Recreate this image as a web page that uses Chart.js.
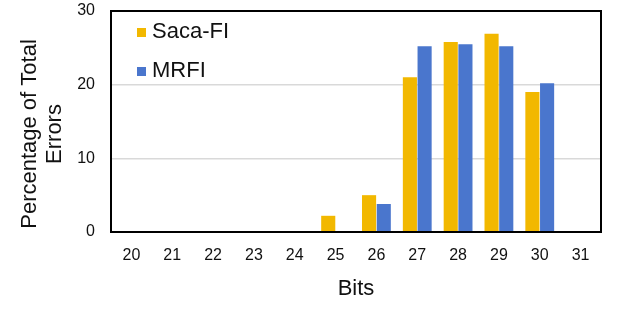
<!DOCTYPE html>
<html>
<head>
<meta charset="utf-8">
<script src="https://cdn.jsdelivr.net/npm/chart.js@4/dist/chart.umd.min.js"></script>
<style>
  body { margin: 0; background: #fff; }
  #wrap { width: 623px; height: 312px; }
</style>
</head>
<body>
<div id="wrap"><canvas id="bitChart"></canvas></div>
<script>
const bits = ["20", "21", "22", "23", "24", "25", "26", "27", "28", "29", "30", "31"];
const sacaFI = [0, 0, 0, 0, 0, 2.2, 5.0, 21.0, 25.8, 26.9, 19.0, 0];
const mrfi = [0, 0, 0, 0, 0, 0, 3.8, 25.2, 25.5, 25.2, 20.2, 0];
const yTicks = [0, 10, 20, 30];
const yTitle = ["Percentage of Total", "Errors"];

const fontFam = "'Liberation Sans', Arial, sans-serif";

// box around plot, legend inside the plot, and the y title (sits a bit low in the original)
const boxAndLegend = {
  id: "boxAndLegend",
  afterDatasetsDraw(chart) {
    const { ctx, chartArea: a } = chart;
    ctx.save();
    ctx.strokeStyle = "#000";
    ctx.lineWidth = 2;
    ctx.strokeRect(a.left, a.top, a.right - a.left, a.bottom - a.top);
    ctx.font = "22px " + fontFam;
    ctx.textBaseline = "middle";
    chart.data.datasets.forEach((ds, i) => {
      const y = a.top + 21 + i * 39;
      ctx.fillStyle = ds.backgroundColor;
      ctx.fillRect(a.left + 26, y - 4, 9, 9);
      ctx.fillStyle = "#111";
      ctx.fillText(ds.label, a.left + 41, y);
    });
    ctx.translate(30, 134);
    ctx.rotate(-Math.PI / 2);
    ctx.textAlign = "center";
    yTitle.forEach((line, i) => ctx.fillText(line, 0, i * 25));
    ctx.restore();
  }
};

const data = {
  labels: bits,
  datasets: [
    { label: "Saca-FI", backgroundColor: "#F2B800", data: sacaFI },
    { label: "MRFI", backgroundColor: "#4A76CD", data: mrfi }
  ]
};

const config = {
  type: "bar",
  data: data,
  options: {
    maintainAspectRatio: false,
    responsive: true,
    animation: false,
    layout: { padding: { top: 2, right: 22, left: 17, bottom: 0 } },
    datasets: { bar: { categoryPercentage: 0.72, barPercentage: 0.96 } },
    plugins: { legend: { display: false }, tooltip: { enabled: false } },
    scales: {
      x: {
        grid: { display: false, drawTicks: false },
        border: { display: false },
        ticks: { color: "#111", font: { size: 16, family: fontFam }, padding: 14 },
        title: { display: true, text: "Bits", color: "#111", font: { size: 22, family: fontFam }, padding: { top: 0, bottom: 10 } },
        afterFit: (axis) => { axis.height = 80; axis.paddingLeft = 0; axis.paddingRight = 0; }
      },
      y: {
        min: 0,
        max: 30,
        afterBuildTicks: (axis) => { axis.ticks = yTicks.map(v => ({ value: v })); },
        grid: { color: "#d9d9d9", lineWidth: 1.5, drawTicks: false },
        border: { display: false },
        ticks: { color: "#111", font: { size: 16, family: fontFam }, padding: 16 },
        title: { display: false },
        afterFit: (axis) => { axis.width = 94; axis.paddingTop = 11; axis.paddingBottom = 0; }
      }
    }
  },
  plugins: [boxAndLegend]
};

const ctx = document.getElementById("bitChart").getContext("2d");
const bitChart = new Chart(ctx, config);
</script>
</body>
</html>
